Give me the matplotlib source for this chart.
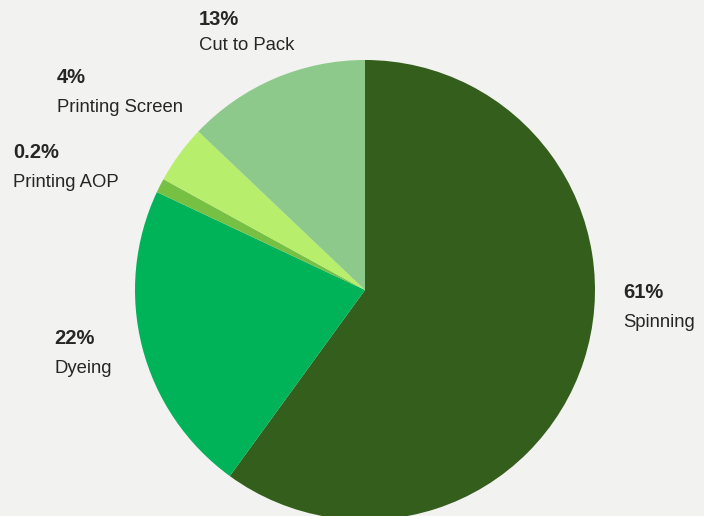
import matplotlib.pyplot as plt

plt.rcParams["font.family"] = ["Liberation Sans", "DejaVu Sans"]

# shares as drawn in the picture (clockwise from 12 o'clock)
categories = ["Spinning", "Dyeing", "Printing AOP", "Printing Screen", "Cut to Pack"]
shares = [60.0, 22.0, 1.0, 4.1, 12.9]
pct_labels = ["61%", "22%", "0.2%", "4%", "13%"]
colors = ["#345e1b", "#00b358", "#76c043", "#b7ee6b", "#8dc98a"]

W, H = 704, 516
BG = "#f2f2f0"
TXT = "#262626"

fig = plt.figure(figsize=(W / 100, H / 100), dpi=100, facecolor=BG)
ax = fig.add_axes([0, 0, 1, 1])
ax.set_facecolor(BG)
ax.set_xlim(0, W)
ax.set_ylim(0, H)
ax.set_aspect("equal")
ax.axis("off")

ax.pie(shares, colors=colors, startangle=90, counterclock=False,
       center=(365, H - 290), radius=230, frame=True,
       wedgeprops=dict(linewidth=0))
ax.set_xlim(0, W)
ax.set_ylim(0, H)
ax.axis("off")

# label positions in pixels (x, baseline of percent, baseline of name)
label_pos = {
    "Spinning": (623, 298, 327),
    "Dyeing": (54, 344, 373),
    "Printing AOP": (13, 158, 187),
    "Printing Screen": (57, 83, 112),
    "Cut to Pack": (199, 25, 50),
}

for name, pct in zip(categories, pct_labels):
    x, yp, yn = label_pos[name]
    ax.text(x, H - yp, pct, fontsize=14.5, fontweight="bold", color=TXT,
            ha="left", va="baseline")
    ax.text(x, H - yn, name, fontsize=13.3, color=TXT,
            ha="left", va="baseline")

fig.savefig("out.png", dpi=100, facecolor=BG)
